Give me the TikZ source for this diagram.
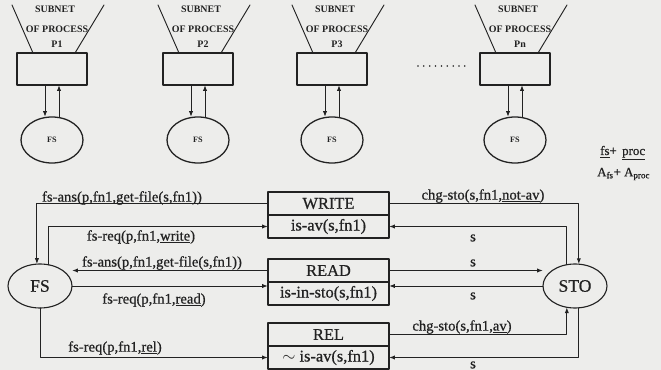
\documentclass[tikz,border=0pt]{standalone}
\usepackage{fontspec}
\setmainfont{Liberation Serif}
\newfontfamily\inkfont{Liberation Serif}[FakeBold=0.7]
\usepackage{xcolor}
\usepackage{tikz}
\usetikzlibrary{arrows.meta,shapes.geometric}
\definecolor{scanink}{HTML}{222222}
\definecolor{scanpaper}{HTML}{EDEDEB}

\begin{document}
\begin{tikzpicture}[
    x=0.03cm,
    y=-0.03cm,
    every path/.style={line cap=round,line join=round},
    >={Latex[length=5pt,width=3.6pt]},
    wire/.style={draw=scanink,line width=0.85pt},
    halfbox/.style={draw=scanink,line width=0.95pt,outer sep=0pt,inner sep=0pt,
      minimum width=3.63cm,minimum height=0.69cm,text=scanink,
      font=\inkfont\fontsize{14}{14}\selectfont},
    bigell/.style={ellipse,draw=scanink,line width=0.95pt,outer sep=0pt,inner sep=0pt,
      minimum width=1.92cm,minimum height=1.32cm,text=scanink,
      font=\inkfont\fontsize{15}{15}\selectfont},
    smallell/.style={ellipse,draw=scanink,line width=1.1pt,outer sep=0pt,inner sep=0pt,
      minimum width=1.86cm,minimum height=1.38cm,text=scanink,
      font=\fontsize{7}{7}\selectfont\bfseries},
    subbox/.style={draw=scanink,line width=1pt,outer sep=0pt,inner sep=0pt,
      minimum width=2.1cm,minimum height=0.96cm},
    subtxt/.style={text=scanink,inner sep=0pt,font=\fontsize{8.5}{8.5}\selectfont\bfseries},
    lbl/.style={text=scanink,inner sep=0pt,font=\inkfont\fontsize{12.5}{12.5}\selectfont}
  ]
    % Scanned page and its size.
    \fill[scanpaper] (0,0) rectangle (661,370);
    \useasboundingbox (0,0) rectangle (661,370);

    % Subnets of the processes, each with its own FS.
    \foreach \cx/\p in {52/P1,198/P2,332/P3,515/Pn}{%
      \node[subbox] (sub\p) at (\cx,69) {};
      \node[smallell] (fs\p) at (\cx,140) {FS};
      \draw[scanink,line width=0.8pt] ([xshift=-0.57cm]sub\p.north) -- ++(-21,-48);
      \draw[scanink,line width=0.8pt] ([xshift=0.69cm]sub\p.north) -- ++(29,-48);
      \node[subtxt] (title\p) at (\cx+3,9) {SUBNET};
      \node[subtxt] (ofproc\p) at (\cx+5,29) {OF PROCESS};
      \node[subtxt] (pname\p) at (\cx+5,44) {\p};
      \draw[wire,->] ([xshift=-0.21cm]sub\p.south) -- ([xshift=-0.21cm]fs\p.north);
      \draw[wire,->] ([xshift=0.21cm]fs\p.north) -- ([xshift=0.21cm]sub\p.south);
    }
    \coordinate (dotsa) at (418,66);
    \coordinate (dotsb) at (467,66);
    \draw[scanink,line width=1.5pt,dash pattern=on 0pt off 5pt] (dotsa) -- (dotsb);

    % Formula fragment at the right margin.
    \node[lbl,anchor=west,font=\inkfont\fontsize{11}{11}\selectfont] (sumtop) at (600,153)
      {\underline{fs}+ \,\underline{proc}};
    \node[lbl,anchor=west,font=\inkfont\fontsize{11}{11}\selectfont] (sumbot) at (597,174)
      {A\textsubscript{fs}+ A\textsubscript{proc}};

    % File server, storage and the three operations.
    \node[bigell] (fs) at (40,286) {FS};
    \node[bigell] (sto) at (575,286) {STO};
    \node[halfbox] (write) at (328.5,203.5) {WRITE};
    \node[halfbox,anchor=north] (writec) at (write.south) {is-av(s,fn1)};
    \node[halfbox] (read) at (328.5,270.5) {READ};
    \node[halfbox,anchor=north] (readc) at (read.south) {is-in-sto(s,fn1)};
    \node[halfbox] (rel) at (328.5,334.5) {REL};
    \node[halfbox,anchor=north] (relc) at (rel.south) {$\sim$ is-av(s,fn1)};

    % Requests and answers between FS and the operations.
    \draw[wire,->] (write.west) -| (fs.98);
    \draw[wire,->] (fs.67) |- (writec.west);
    \draw[wire,->] (read.west) -- (read.west -| fs.east);
    \draw[wire,->] (fs.east) -- (fs.east -| readc.west);
    \draw[wire,->] (fs.south) |- (relc.west);

    % Changes and answers between the operations and STO.
    \draw[wire,->] (write.east) -| (sto.80);
    \draw[wire,->] (sto.111) |- (writec.east);
    \draw[wire,->] (read.east) -- (read.east -| sto.west);
    \draw[wire,->] (sto.west) -- (sto.west -| readc.east);
    \draw[wire,->] (rel.east) -| (sto.249);
    \draw[wire,->] (sto.280) |- (relc.east);

    % Connector labels.
    \node[lbl] (answ) at (122,198) {fs-ans(p,fn1,get-file(s,fn1))};
    \node[lbl] (reqw) at (141,237) {fs-req(p,fn1,\underline{write})};
    \node[lbl] (ansr) at (162,263) {fs-ans(p,fn1,get-file(s,fn1))};
    \node[lbl] (reqr) at (154,300) {fs-req(p,fn1,\underline{read})};
    \node[lbl] (reql) at (115,348) {fs-req(p,fn1,\underline{rel})};
    \node[lbl] (chgw) at (483,196) {chg-sto(s,fn1,\underline{not-av})};
    \node[lbl] (sw) at (473,238) {s};
    \node[lbl] (sr) at (473,263) {s};
    \node[lbl] (ss) at (473,296) {s};
    \node[lbl] (chgl) at (462,327) {chg-sto(s,fn1,\underline{av})};
    \node[lbl] (sl) at (473,365) {s};
  \end{tikzpicture}
\end{document}
